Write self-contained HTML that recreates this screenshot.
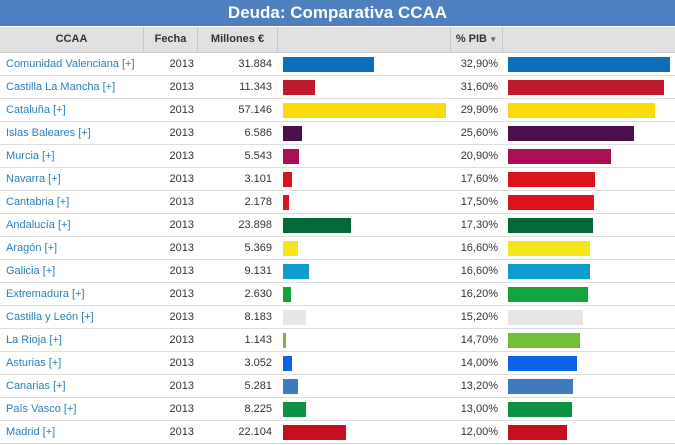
<!DOCTYPE html>
<html><head><meta charset="utf-8"><style>
body{margin:0;width:675px;height:445px;background:#fff;font-family:"Liberation Sans",sans-serif;overflow:hidden;position:relative}
#title{position:absolute;left:0;top:0;width:675px;height:26px;background:#4e7fbf;color:#fff;font-weight:bold;font-size:17px;text-align:center;line-height:26px}
#head{position:absolute;left:0;top:27px;width:675px;height:25px;background:#e1e1e1;font-size:11px;font-weight:bold;color:#333;border-bottom:1px solid #ccc}
.h{position:absolute;top:0;height:25px;line-height:25px;border-right:1px solid #c8c8c8;text-align:center}
.row{position:absolute;left:0;width:675px;height:22px;border-bottom:1px solid #ddd;font-size:11px;color:#333}
.c{position:absolute;top:0;line-height:22px}
.name{left:6px;color:#2a7fb8}
.bar{position:absolute;height:15px;top:4px}
</style></head><body>
<div id="title">Deuda: Comparativa CCAA</div>
<div id="head">
<div class="h" style="left:0;width:143px">CCAA</div>
<div class="h" style="left:144px;width:53px">Fecha</div>
<div class="h" style="left:198px;width:79px">Millones €</div>
<div class="h" style="left:278px;width:172px"></div>
<div class="h" style="left:451px;width:51px">% PIB<span style="font-size:8px;color:#666"> ▼</span></div>
</div>
<div id="rows"></div>
<script>
const names=["Comunidad Valenciana","Castilla La Mancha","Cataluña","Islas Baleares","Murcia","Navarra","Cantabria","Andalucía","Aragón","Galicia","Extremadura","Castilla y León","La Rioja","Asturias","Canarias","País Vasco","Madrid"];
const years=[2013,2013,2013,2013,2013,2013,2013,2013,2013,2013,2013,2013,2013,2013,2013,2013,2013];
const millones=[31884,11343,57146,6586,5543,3101,2178,23898,5369,9131,2630,8183,1143,3052,5281,8225,22104];
const pib=[32.9,31.6,29.9,25.6,20.9,17.6,17.5,17.3,16.6,16.6,16.2,15.2,14.7,14.0,13.2,13.0,12.0];
const colors=["#0b6fbd","#be1a2b","#f9da0d","#4a0f4c","#a80f55","#d9141c","#d9141c","#056837","#f5e51a","#109bd1","#14a43c","#e6e6e6","#6fbf3a","#0a63e8","#3f7ac0","#0d9244","#c3101f"];
const fmt=v=>String(v).replace(/\B(?=(\d{3})+(?!\d))/g,".");
const x1=v=>v*163/57146, x2=v=>v*162/32.9;
const root=document.getElementById('rows');
names.forEach((n,i)=>{
 const r=document.createElement('div');r.className='row';r.style.top=(53+i*23)+'px';
 
 
 r.innerHTML=`<div class="c name">${n} [+]</div>
<div class="c" style="left:150px;width:44px;text-align:right">${years[i]}</div>
<div class="c" style="left:200px;width:72px;text-align:right">${fmt(millones[i])}</div>
<div class="bar" style="left:283px;width:${x1(millones[i])}px;background:${colors[i]}"></div>
<div class="c" style="left:450px;width:48px;text-align:right">${pib[i].toFixed(2).replace('.',',')}%</div>
<div class="bar" style="left:508px;width:${x2(pib[i])}px;background:${colors[i]}"></div>`;
 root.appendChild(r);
});
</script>
</body></html>
